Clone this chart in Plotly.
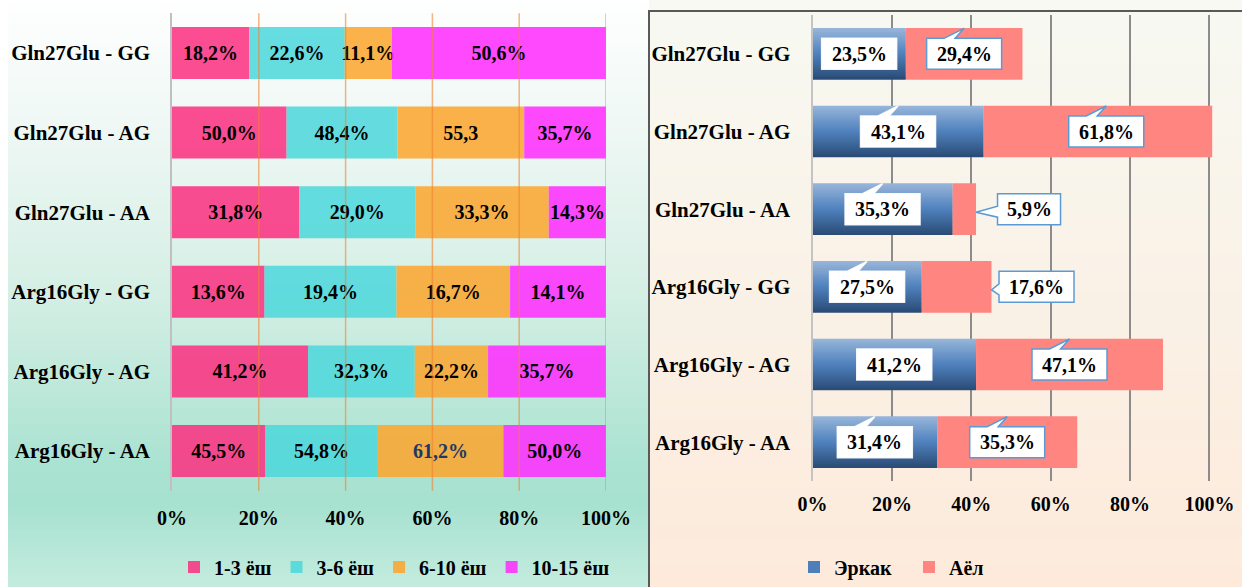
import base64
import struct
import zlib

import numpy as np
import plotly.graph_objects as go

# ---------------------------------------------------------------- data
CATEGORIES = [
    "Gln27Glu - GG",
    "Gln27Glu - AG",
    "Gln27Glu - AA",
    "Arg16Gly - GG",
    "Arg16Gly - AG",
    "Arg16Gly - AA",
]

AGE_GROUPS = ["1-3 ёш", "3-6 ёш", "6-10 ёш", "10-15 ёш"]
AGE_1_3 = [18.2, 50.0, 31.8, 13.6, 41.2, 45.5]
AGE_3_6 = [22.6, 48.4, 29.0, 19.4, 32.3, 54.8]
AGE_6_10 = [11.1, 55.3, 33.3, 16.7, 22.2, 61.2]
AGE_10_15 = [50.6, 35.7, 14.3, 14.1, 35.7, 50.0]

SEX_GROUPS = ["Эркак", "Аёл"]
MALE = [23.5, 43.1, 35.3, 27.5, 41.2, 31.4]
FEMALE = [29.4, 61.8, 5.9, 17.6, 47.1, 35.3]

PCT_TICKS = [0, 20, 40, 60, 80, 100]
PCT_TICK_TEXT = ["0%", "20%", "40%", "60%", "80%", "100%"]

# labels printed without a percent sign / in navy (series index, row index)
NO_PERCENT = {(2, 1)}
NAVY_TEXT = {(2, 5)}

# ---------------------------------------------------------------- style
W, H = 1242, 587
FONT = "Liberation Serif"
AGE_COLORS = [
    "rgba(251,48,128,0.86)",
    "rgba(77,215,219,0.86)",
    "rgba(251,165,45,0.86)",
    "rgba(255,43,255,0.86)",
]
FEMALE_COLOR = "#ff8680"
CALLOUT_LINE = "#5b9bd5"
MALE_CALLOUT_LINE = "rgba(255,255,255,0.9)"

# callout tails on the right chart: "up", "left" (label pushed out of bar) or "none"
MALE_TAILS = ["none", "up", "up", "up", "none", "up"]
FEMALE_TAILS = ["up", "up", "left", "left", "up", "up"]
FEMALE_SHIFT = [0, 0, 53, 45, 0, 0]  # px shift for labels pushed out of the bar


def fmt(v, pct=True):
    s = f"{v:.1f}".replace(".", ",")
    return s + "%" if pct else s


def gradient_png(stops, n=256):
    """1-px wide vertical gradient PNG as a data URI."""
    pos = np.array([p for p, _ in stops])
    cols = np.array([c for _, c in stops], dtype=float)
    t = np.linspace(0, 1, n)
    rows = np.stack([np.interp(t, pos, cols[:, k]) for k in range(3)], axis=1)
    raw = b"".join(b"\x00" + bytes(int(round(v)) for v in r) for r in rows)

    def chunk(tag, data):
        c = struct.pack(">I", len(data)) + tag + data
        return c + struct.pack(">I", zlib.crc32(tag + data) & 0xFFFFFFFF)

    png = b"\x89PNG\r\n\x1a\n"
    png += chunk(b"IHDR", struct.pack(">IIBBBBB", 1, n, 8, 2, 0, 0, 0))
    png += chunk(b"IDAT", zlib.compress(raw, 9))
    png += chunk(b"IEND", b"")
    return "data:image/png;base64," + base64.b64encode(png).decode()


def lerp_color(stops, t):
    pos = [p for p, _ in stops]
    return "rgb(%d,%d,%d)" % tuple(
        int(round(np.interp(t, pos, [c[k] for _, c in stops]))) for k in range(3)
    )


def callout_path(w, h, tail, dx=0.0):
    hw, hh = w / 2, h / 2
    x0 = dx
    if tail == "up":
        pts = [(-hw, -hh), (hw, -hh), (hw, hh), (-9, hh), (0, hh + 10), (-20, hh), (-hw, hh)]
    elif tail == "left":
        pts = [(-hw, -hh), (hw, -hh), (hw, hh), (-hw, hh), (-hw, 3), (-dx, -3), (-hw, -8)]
    else:
        pts = [(-hw, -hh), (hw, -hh), (hw, hh), (-hw, hh)]
    return "M" + "L".join(f"{x + x0:.1f},{y:.1f}" for x, y in pts) + "Z"


fig = go.Figure()

# ---------------------------------------------------------------- left chart: 100% stacked bars
age = np.array([AGE_1_3, AGE_3_6, AGE_6_10, AGE_10_15], dtype=float)
share = age / age.sum(axis=0) * 100
base = np.vstack([np.zeros(len(CATEGORIES)), np.cumsum(share, axis=0)[:-1]])

for k, name in enumerate(AGE_GROUPS):
    texts = [fmt(v, (k, i) not in NO_PERCENT) for i, v in enumerate(age[k])]
    tcolors = ["#1f3864" if (k, i) in NAVY_TEXT else "black" for i in range(len(CATEGORIES))]
    fig.add_trace(go.Bar(
        y=CATEGORIES, x=share[k], base=base[k], orientation="h",
        name=name, width=0.653,
        marker=dict(color=AGE_COLORS[k], line=dict(width=0)),
        text=texts, textposition="inside", insidetextanchor="middle",
        constraintext="none", textangle=0,
        textfont=dict(family=FONT, size=20, weight="bold", color=tcolors),
        xaxis="x", yaxis="y", legend="legend", hoverinfo="skip",
    ))

# ---------------------------------------------------------------- right chart: stacked male / female
BAR_W = 0.666
N_SLICES = 26
blue_stops = [(0.0, (152, 182, 218)), (0.5, (79, 129, 189)), (1.0, (42, 74, 116))]
step = BAR_W / N_SLICES
for i in range(N_SLICES):
    off = -BAR_W / 2 + i * step
    fig.add_trace(go.Bar(
        y=CATEGORIES, x=MALE, base=[0] * len(MALE), orientation="h",
        name=SEX_GROUPS[0], width=min(step * 1.6, BAR_W / 2 - off), offset=off,
        marker=dict(color=lerp_color(blue_stops, (i + 0.5) / N_SLICES), line=dict(width=0)),
        xaxis="x2", yaxis="y2", legend="legend2", legendrank=1,
        showlegend=(i == N_SLICES // 2), hoverinfo="skip",
    ))
fig.add_trace(go.Bar(
    y=CATEGORIES, x=FEMALE, base=MALE, orientation="h",
    name=SEX_GROUPS[1], width=BAR_W,
    marker=dict(color=FEMALE_COLOR, line=dict(width=0)),
    xaxis="x2", yaxis="y2", legend="legend2", legendrank=2, hoverinfo="skip",
))

# callout labels
shapes = []
annotations = []
label_font = dict(family=FONT, size=20, weight="bold", color="black")


def add_callout(xval, cat, text, tail, line_color, shift=0.0):
    w = 12 * len(text) + 15
    shapes.append(dict(
        type="path", xref="x2", yref="y2", xsizemode="pixel", ysizemode="pixel",
        xanchor=xval, yanchor=cat, path=callout_path(w, 31, tail, shift),
        fillcolor="white", line=dict(color=line_color, width=1.5), layer="above",
    ))
    annotations.append(dict(
        x=xval, y=cat, xref="x2", yref="y2", text=text, showarrow=False,
        xshift=shift, font=label_font,
    ))


for i, cat in enumerate(CATEGORIES):
    add_callout(MALE[i] / 2, cat, fmt(MALE[i]), MALE_TAILS[i], MALE_CALLOUT_LINE)
    if FEMALE_TAILS[i] == "left":
        add_callout(MALE[i] + FEMALE[i], cat, fmt(FEMALE[i]), "left", CALLOUT_LINE,
                    FEMALE_SHIFT[i])
    else:
        add_callout(MALE[i] + FEMALE[i] / 2, cat, fmt(FEMALE[i]), FEMALE_TAILS[i],
                    CALLOUT_LINE)

# orange gridlines drawn over the left bars
for v in PCT_TICKS[1:]:
    shapes.append(dict(
        type="line", xref="x", yref="y domain", x0=v, x1=v, y0=0, y1=1,
        line=dict(color="rgba(238,130,50,0.6)", width=1.5), layer="above",
    ))

# right panel frame
shapes.append(dict(
    type="rect", xref="paper", yref="paper",
    x0=649 / W, x1=1.02, y0=-0.02, y1=(H - 11) / H,
    line=dict(color="#595959", width=2), fillcolor="rgba(0,0,0,0)", layer="above",
))

# ---------------------------------------------------------------- panel backgrounds
left_bg = gradient_png([
    (0.0, (254, 255, 254)), (0.2, (240, 248, 245)), (0.5, (213, 239, 229)),
    (0.78, (172, 227, 210)), (0.86, (167, 225, 208)), (1.0, (196, 236, 222)),
])
right_bg = gradient_png([(0.0, (247, 249, 242)), (1.0, (253, 234, 219))])
images = [
    dict(source=left_bg, xref="paper", yref="paper", x=8 / W, y=1, sizex=(649 - 8) / W,
         sizey=1, xanchor="left", yanchor="top", sizing="stretch", layer="below"),
    dict(source=right_bg, xref="paper", yref="paper", x=649 / W, y=1, sizex=(W - 649) / W,
         sizey=1, xanchor="left", yanchor="top", sizing="stretch", layer="below"),
]

tick_font = dict(family=FONT, size=20, weight="bold", color="black")
cat_font = dict(family=FONT, size=21, weight="bold", color="black")

fig.update_layout(
    width=W, height=H, margin=dict(l=0, r=0, t=0, b=0, autoexpand=False),
    paper_bgcolor="white", plot_bgcolor="rgba(0,0,0,0)",
    barmode="overlay", images=images, shapes=shapes, annotations=annotations,
    xaxis=dict(
        domain=[172 / W, 606 / W], range=[0, 100], anchor="y", automargin=False,
        tickvals=PCT_TICKS, ticktext=PCT_TICK_TEXT, tickfont=tick_font,
        showgrid=False, zeroline=False, ticks="", ticklabelstandoff=13, fixedrange=True,
    ),
    yaxis=dict(
        domain=[(H - 490.8) / H, (H - 13.2) / H], anchor="x", type="category",
        categoryorder="array", categoryarray=CATEGORIES, autorange="reversed",
        showline=True, linecolor="#c0c0c0", linewidth=1.5, showgrid=False, automargin=False,
        ticks="", tickfont=cat_font, ticklabelstandoff=16, fixedrange=True,
    ),
    xaxis2=dict(
        domain=[812.5 / W, 1212.2 / W], range=[0, 100.7], anchor="y2", automargin=False,
        tickvals=PCT_TICKS, ticktext=PCT_TICK_TEXT, tickfont=tick_font,
        showgrid=True, gridcolor="#8c8c8c", gridwidth=2, zeroline=False,
        ticks="", ticklabelstandoff=9, fixedrange=True,
    ),
    yaxis2=dict(
        domain=[(H - 481) / H, (H - 15) / H], anchor="x2", type="category",
        categoryorder="array", categoryarray=CATEGORIES, autorange="reversed",
        showline=True, linecolor="#c4c4c4", linewidth=2, showgrid=False, automargin=False,
        ticks="", tickfont=cat_font, ticklabelstandoff=16, fixedrange=True,
    ),
    legend=dict(
        orientation="h", x=174 / W, xanchor="left", y=20 / H, yanchor="middle",
        font=tick_font, bgcolor="rgba(0,0,0,0)", traceorder="normal",
    ),
    legend2=dict(
        orientation="h", x=794 / W, xanchor="left", y=20 / H, yanchor="middle",
        font=tick_font, bgcolor="rgba(0,0,0,0)", entrywidth=70,
    ),
)

fig.write_html("out.html")
